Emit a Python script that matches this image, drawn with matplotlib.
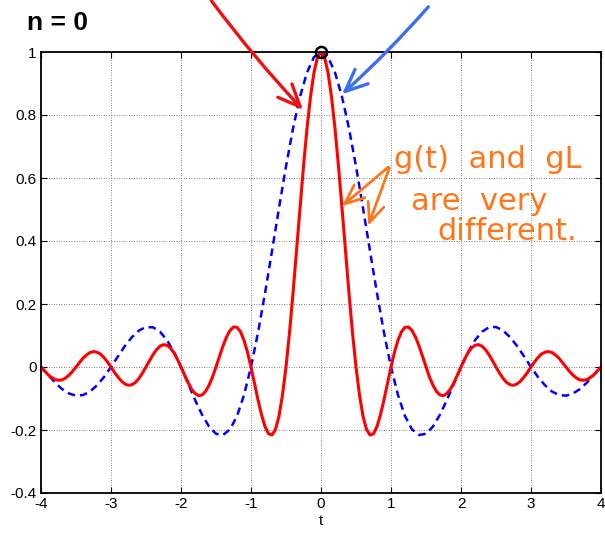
import matplotlib.pyplot as plt
import numpy as np

# readings for t >= 0; both curves are even in t
t_blue = np.round(np.arange(0, 41) * 0.1, 2)
g_blue = [1.000, 0.984, 0.935, 0.858, 0.757, 0.637, 0.505, 0.368, 0.234, 0.109,
          0.000, -0.089, -0.156, -0.198, -0.216, -0.212, -0.189, -0.151, -0.104, -0.052,
          0.000, 0.047, 0.085, 0.112, 0.126, 0.127, 0.116, 0.095, 0.067, 0.034,
          0.000, -0.032, -0.058, -0.078, -0.089, -0.091, -0.084, -0.070, -0.049, -0.025,
          0.000]

t_red = np.round(np.arange(0, 81) * 0.05, 2)
g_red = [1.000, 0.984, 0.935, 0.858, 0.757, 0.637, 0.505, 0.368, 0.234, 0.109,
         0.000, -0.089, -0.156, -0.198, -0.216, -0.212, -0.189, -0.151, -0.104, -0.052,
         0.000, 0.047, 0.085, 0.112, 0.126, 0.127, 0.116, 0.095, 0.067, 0.034,
         0.000, -0.032, -0.058, -0.078, -0.089, -0.091, -0.084, -0.070, -0.049, -0.025,
         0.000, 0.024, 0.045, 0.060, 0.069, 0.071, 0.066, 0.055, 0.039, 0.020,
         0.000, -0.019, -0.036, -0.049, -0.056, -0.058, -0.054, -0.045, -0.032, -0.017,
         0.000, 0.016, 0.030, 0.041, 0.047, 0.049, 0.046, 0.038, 0.028, 0.014,
         0.000, -0.014, -0.026, -0.035, -0.041, -0.042, -0.040, -0.033, -0.024, -0.012,
         0.000]

x_ticks = [-4, -3, -2, -1, 0, 1, 2, 3, 4]
y_ticks = [-0.4, -0.2, 0, 0.2, 0.4, 0.6, 0.8, 1]
y_labels = ["-0.4", "-0.2", "0", "0.2", "0.4", "0.6", "0.8", "1"]


def mirrored(t, g):
    t = np.asarray(t)
    g = np.asarray(g)
    return np.concatenate([-t[:0:-1], t]), np.concatenate([g[:0:-1], g])


plt.rcParams["font.family"] = ["Liberation Sans", "DejaVu Sans"]

fig = plt.figure(figsize=(6.05, 5.38), dpi=100)
ax = fig.add_axes([41 / 605, 1 - 493 / 538, 560 / 605, 441 / 538])

tb, gb = mirrored(t_blue, g_blue)
tr, gr = mirrored(t_red, g_red)
ax.plot(tb, gb, color="#0000ff", linestyle=(0, (3, 2)), linewidth=1.8)
ax.plot(tr, gr, color="#ff0000", linewidth=2.2)
ax.plot([0], [1], marker="o", markersize=8, markerfacecolor="none",
        markeredgecolor="black", markeredgewidth=1.8, clip_on=False, zorder=5)

ax.set_xlim(-4, 4)
ax.set_ylim(-0.4, 1)
ax.set_xticks(x_ticks)
ax.set_xticklabels([str(v) for v in x_ticks])
ax.set_yticks(y_ticks)
ax.set_yticklabels(y_labels)
ax.tick_params(direction="in", top=True, right=True, length=4, labelsize=11, pad=3)
ax.grid(True, color="#555555", linestyle=(0, (1, 2)), linewidth=0.6)
for s in ax.spines.values():
    s.set_linewidth(1.3)
ax.set_xlabel("t", fontsize=11, labelpad=2)

# handwritten notes
fig.text(0.045, 0.958, "n = 0", fontsize=19, fontweight="bold", va="center")

ax.annotate("", xy=(-0.23, 0.81), xytext=(-1.59, 1.17), annotation_clip=False,
            arrowprops=dict(arrowstyle="->,head_length=0.8,head_width=0.35",
                            color="#ee1111", lw=2.4, mutation_scale=20,
                            connectionstyle="arc3,rad=0.03"))
ax.annotate("", xy=(0.27, 0.86), xytext=(1.56, 1.15), annotation_clip=False,
            arrowprops=dict(arrowstyle="->,head_length=0.8,head_width=0.35",
                            color="#3b6ff0", lw=2.4, mutation_scale=20,
                            connectionstyle="arc3,rad=-0.03"))

orange = "#ff7518"
ax.annotate("", xy=(0.27, 0.505), xytext=(0.99, 0.64),
            arrowprops=dict(arrowstyle="->,head_length=0.7,head_width=0.3",
                            color=orange, lw=2, mutation_scale=20))
ax.annotate("", xy=(0.66, 0.44), xytext=(0.99, 0.64),
            arrowprops=dict(arrowstyle="->,head_length=0.7,head_width=0.3",
                            color=orange, lw=2, mutation_scale=20))
ax.text(1.05, 0.66, "g(t)  and  gL", color=orange, fontsize=22,
        family="DejaVu Sans", va="center", clip_on=False)
ax.text(1.28, 0.525, "are  very", color=orange, fontsize=22,
        family="DejaVu Sans", va="center")
ax.text(1.66, 0.43, "different.", color=orange, fontsize=22,
        family="DejaVu Sans", va="center")

fig.savefig("out.png", dpi=100)
